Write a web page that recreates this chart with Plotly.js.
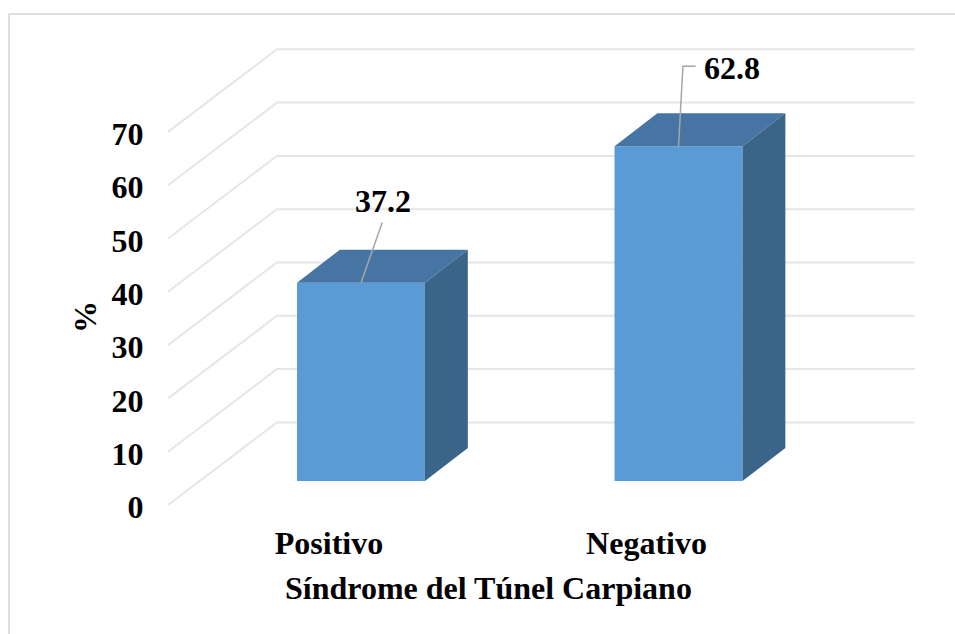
<!DOCTYPE html>
<html>
<head>
<meta charset="utf-8">
<script src="https://cdn.plot.ly/plotly-3.0.1.min.js"></script>
<style>html,body{margin:0;padding:0;background:#fff}#chart{width:955px;height:634px}</style>
</head>
<body>
<div id="chart"></div>
<script>
// Data
const categories = ["Positivo", "Negativo"];
const values = [37.2, 62.8];
const valueLabels = ["37.2", "62.8"];
const yTicks = [0, 10, 20, 30, 40, 50, 60, 70];
const xTitle = "Síndrome del Túnel Carpiano";
const yTitle = "%";

// Fake-3D geometry, in axis units (1 x unit = one category step, y unit = percent)
const gridStartX = -0.507, gridEndX = 1.846, gridDepthX = 0.343, gridDepthY = 15.5;
const barShiftX = 0.1008, barBase = 4.5, barWidth = 0.403, barDepthX = 0.135, barDepthY = 6.2;
const font = "'Liberation Serif','Times New Roman',serif";
const textStyle = {family: font, size: 32, color: "#000", weight: "bold"};
const xRange = [-0.5228, 1.8614], yRange = [-0.94, 86.49];
const margin = {l: 163, r: 35, t: 44, b: 124};

// Back-wall gridlines (behind the bars)
const gridShapes = yTicks.map(t => ({
  type: "path", xref: "x", yref: "y", layer: "below",
  path: `M ${gridStartX} ${t} L ${gridStartX + gridDepthX} ${t + gridDepthY} L ${gridEndX} ${t + gridDepthY}`,
  line: {color: "#E6E6E6", width: 2}
}));
const frameColor = "#DEDEDE";
const paperX = px => (px - margin.l) / (955 - margin.l - margin.r);
const paperY = px => (634 - margin.b - px) / (634 - margin.t - margin.b);
const frameShapes = [
  {type: "line", xref: "paper", yref: "paper", x0: paperX(9), x1: paperX(955), y0: paperY(14), y1: paperY(14), line: {color: frameColor, width: 2}},
  {type: "line", xref: "paper", yref: "paper", x0: paperX(9), x1: paperX(9), y0: paperY(14), y1: paperY(634), line: {color: frameColor, width: 2}}
];

const xs = categories.map((_, i) => i);
const left = xs.map(i => i + barShiftX - barWidth / 2);
const right = left.map(l => l + barWidth);
const tops = values.map(v => v + barBase);

const frontFaces = {
  type: "bar", x: xs, y: values, base: barBase, width: barWidth, offset: barShiftX - barWidth / 2,
  marker: {color: "#5B9BD5", line: {width: 0}}, hoverinfo: "skip", showlegend: false
};
const topFaces = xs.map(i => ({
  type: "scatter", mode: "lines", fill: "toself", fillcolor: "#4675A3", line: {width: 0, color: "#4675A3"},
  x: [left[i], right[i], right[i] + barDepthX, left[i] + barDepthX, left[i]],
  y: [tops[i], tops[i], tops[i] + barDepthY, tops[i] + barDepthY, tops[i]],
  hoverinfo: "skip", showlegend: false
}));
const sideFaces = xs.map(i => ({
  type: "scatter", mode: "lines", fill: "toself", fillcolor: "#3A6589", line: {width: 0, color: "#3A6589"},
  x: [right[i], right[i] + barDepthX, right[i] + barDepthX, right[i], right[i]],
  y: [barBase, barBase + barDepthY, tops[i] + barDepthY, tops[i], barBase],
  hoverinfo: "skip", showlegend: false
}));

// Leader lines and value labels
const leaderColor = "#A6A6A6";
const leaderBaseX = xs.map(i => left[i] + barWidth / 2);
const leaders = [
  {x: [leaderBaseX[0], leaderBaseX[0] + 0.067], y: [tops[0], tops[0] + 11.3]},
  {x: [leaderBaseX[1], leaderBaseX[1] + 0.014, leaderBaseX[1] + 0.054], y: [tops[1], tops[1] + 15, tops[1] + 15]}
].map(l => ({type: "scatter", mode: "lines", x: l.x, y: l.y, line: {color: leaderColor, width: 1.5}, hoverinfo: "skip", showlegend: false}));

const labelPos = [
  {x: leaderBaseX[0] + 0.0693, y: tops[0] + 15.4},
  {x: leaderBaseX[1] + 0.167, y: tops[1] + 14.7}
];
const labelAnnotations = valueLabels.map((t, i) => ({
  xref: "x", yref: "y", x: labelPos[i].x, y: labelPos[i].y, text: t, showarrow: false,
  xanchor: "center", yanchor: "middle", font: textStyle
}));
const titleAnnotations = [
  {xref: "paper", yref: "paper", x: paperX(488), y: paperY(588), text: xTitle, showarrow: false, xanchor: "center", yanchor: "middle", font: textStyle},
  {xref: "paper", yref: "paper", x: paperX(85), y: paperY(317), text: yTitle, showarrow: false, xanchor: "center", yanchor: "middle", textangle: -90, font: textStyle}
];

const layout = {
  width: 955, height: 634, margin, paper_bgcolor: "#fff", plot_bgcolor: "#fff", showlegend: false,
  font: textStyle,
  xaxis: {type: "linear", range: xRange, tickmode: "array", tickvals: xs, ticktext: categories,
          showgrid: false, zeroline: false, showline: false, ticks: "outside", ticklen: 5, tickcolor: "rgba(0,0,0,0)",
          tickfont: textStyle, fixedrange: true},
  yaxis: {type: "linear", range: yRange, tickmode: "array", tickvals: yTicks, ticktext: yTicks.map(String),
          showgrid: false, zeroline: false, showline: false, ticks: "outside", ticklen: 12, tickcolor: "rgba(0,0,0,0)",
          ticklabelshift: 2, tickfont: textStyle, fixedrange: true},
  shapes: frameShapes.concat(gridShapes),
  annotations: labelAnnotations.concat(titleAnnotations)
};

Plotly.newPlot("chart", [frontFaces, ...topFaces, ...sideFaces, ...leaders], layout, {displayModeBar: false, staticPlot: true});
</script>
</body>
</html>
